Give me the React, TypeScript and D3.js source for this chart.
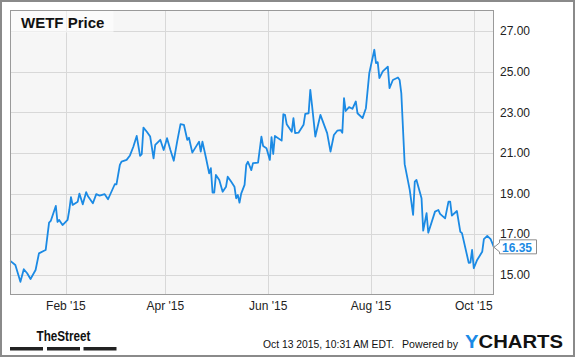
import React from "react";
import * as d3 from "d3";

const dates: string[] = [
  "2014-12-30","2015-01-02","2015-01-05","2015-01-07","2015-01-09","2015-01-11","2015-01-14","2015-01-16",
  "2015-01-19","2015-01-20","2015-01-22","2015-01-23","2015-01-26","2015-01-27","2015-01-28","2015-01-30",
  "2015-02-02","2015-02-03","2015-02-04","2015-02-05","2015-02-08","2015-02-09","2015-02-11","2015-02-13",
  "2015-02-14","2015-02-17","2015-02-19","2015-02-21","2015-02-24","2015-02-26","2015-03-02","2015-03-03",
  "2015-03-05","2015-03-06","2015-03-09","2015-03-11","2015-03-13","2015-03-15","2015-03-17","2015-03-18",
  "2015-03-19","2015-03-21","2015-03-23","2015-03-25","2015-03-26","2015-03-29","2015-03-31","2015-04-02",
  "2015-04-04","2015-04-06","2015-04-08","2015-04-10","2015-04-12","2015-04-14","2015-04-15","2015-04-17",
  "2015-04-21","2015-04-22","2015-04-23","2015-04-25","2015-04-27","2015-04-28","2015-04-29","2015-04-30",
  "2015-05-01","2015-05-03","2015-05-05","2015-05-07","2015-05-08","2015-05-10","2015-05-12","2015-05-13",
  "2015-05-14","2015-05-15","2015-05-16","2015-05-18","2015-05-19","2015-05-20","2015-05-22","2015-05-23",
  "2015-05-26","2015-05-28","2015-05-29","2015-05-31","2015-06-02","2015-06-03","2015-06-04","2015-06-05",
  "2015-06-09","2015-06-10","2015-06-11","2015-06-12","2015-06-15","2015-06-16","2015-06-17","2015-06-19",
  "2015-06-22","2015-06-23","2015-06-25","2015-06-26","2015-06-27","2015-06-29","2015-07-02","2015-07-06",
  "2015-07-08","2015-07-10","2015-07-12","2015-07-14","2015-07-15","2015-07-16","2015-07-17","2015-07-19",
  "2015-07-21","2015-07-23","2015-07-24","2015-07-27","2015-07-29","2015-07-31","2015-08-03","2015-08-04",
  "2015-08-05","2015-08-06","2015-08-08","2015-08-11","2015-08-12","2015-08-14","2015-08-17","2015-08-18",
  "2015-08-19","2015-08-21","2015-08-24","2015-08-26","2015-08-27","2015-08-28","2015-08-31","2015-09-01",
  "2015-09-03","2015-09-04","2015-09-08","2015-09-10","2015-09-11","2015-09-14","2015-09-16","2015-09-17",
  "2015-09-18","2015-09-21","2015-09-23","2015-09-24","2015-09-28","2015-09-29","2015-09-30","2015-10-01",
  "2015-10-03","2015-10-06","2015-10-07","2015-10-09","2015-10-11","2015-10-13"
];

const prices: number[] = [
  15.68,15.48,14.65,15.27,15.07,14.79,15.23,16.05,
  16.18,16.22,17.57,17.65,18.39,17.6,17.7,17.45,
  17.7,18.19,18.82,18.44,18.6,19.0,18.47,19.07,
  18.88,18.52,18.97,18.9,18.97,18.72,19.46,19.45,
  20.41,20.58,20.66,20.88,21.31,21.84,20.86,20.95,
  22.25,22.05,21.81,20.74,21.4,21.65,21.15,21.73,
  21.15,20.62,21.56,22.42,22.39,21.65,21.75,21.02,
  21.56,21.07,21.56,20.8,20.0,20.25,19.05,19.05,
  19.92,19.67,19.09,19.34,19.83,19.59,19.34,18.77,
  18.93,18.55,19.0,19.43,20.41,20.57,20.16,20.5,
  20.53,21.81,21.35,21.24,20.66,21.78,20.95,21.84,
  21.61,22.91,22.88,22.42,22.05,22.72,21.98,22.0,
  22.39,22.93,22.96,24.11,23.37,21.81,22.88,21.98,
  21.07,21.89,22.1,22.13,22.0,23.7,23.07,23.26,
  23.18,23.54,22.96,22.72,23.21,24.94,26.09,25.43,
  25.48,24.69,25.02,25.26,24.2,24.6,24.72,24.6,
  23.95,20.45,19.18,17.95,19.59,19.67,18.77,17.17,
  18.03,17.07,18.11,18.19,18.0,17.78,18.6,18.6,
  17.91,18.14,17.12,17.05,15.59,15.6,16.22,15.32,
  15.73,16.13,16.75,16.91,16.75,16.35
];

const yTicks: number[] = [15, 17, 19, 21, 23, 25, 27];
const xTickDates: string[] = ["2015-02-01", "2015-04-01", "2015-06-01", "2015-08-01", "2015-10-01"];
const xTickLabels: string[] = ["Feb '15", "Apr '15", "Jun '15", "Aug '15", "Oct '15"];
const title = "WETF Price";
const lastLabel = "16.35";
const stampText = "Oct 13 2015, 10:31 AM EDT.";
const poweredText = "Powered by";

export default function App() {
  const W = 575, H = 358;
  const left = 10, right = 494, top = 10, bottom = 295;
  const parse = d3.timeParse("%Y-%m-%d");
  const data = dates.map((d, i) => ({ date: parse(d) as Date, v: prices[i] }));
  const x = d3.scaleTime()
    .domain([parse("2014-12-30") as Date, parse("2015-10-13") as Date])
    .range([left + 0.3, right]);
  const y = d3.scaleLinear().domain([14, 28.05]).range([bottom, top]);
  const line = d3.line<{ date: Date; v: number }>()
    .x(d => x(d.date))
    .y(d => y(d.v))
    .curve(d3.curveLinear);
  const blue = "#1b8ae4";
  const last = data[data.length - 1];
  const ly = y(last.v);
  const font = "Arial, 'Liberation Sans', sans-serif";

  return (
    <svg width={W} height={H} style={{ position: "absolute", left: 0, top: 0, background: "#fff" }}
      fontFamily={font}>
      <rect x={0} y={0} width={W} height={H} fill="#fff" />
      <rect x={left} y={top} width={right - left} height={bottom - top} fill="#f6f6f6" />
      {yTicks.map(t => (
        <line key={"gy" + t} x1={left} x2={right} y1={Math.round(y(t)) + 0.5} y2={Math.round(y(t)) + 0.5}
          stroke="#d8d8d8" strokeWidth={1} />
      ))}
      {xTickDates.map(d => {
        const xx = Math.round(x(parse(d) as Date)) + 0.5;
        return <line key={"gx" + d} x1={xx} x2={xx} y1={top} y2={bottom} stroke="#d8d8d8" strokeWidth={1} />;
      })}
      <rect x={left + 0.5} y={top + 0.5} width={103} height={22} fill="#ffffff" fillOpacity={0.55} />
      <text x={21} y={28} fontSize={15} fontWeight="bold" fill="#111">{title}</text>
      <path d={line(data) || ""} fill="none" stroke={blue} strokeWidth={1.8} strokeLinejoin="round" />
      <rect x={left + 0.5} y={top + 0.5} width={right - left - 1} height={bottom - top - 1} fill="none"
        stroke="#9a9a9a" strokeWidth={1} />
      {yTicks.map(t => (
        <text key={"ty" + t} x={500} y={y(t)} dy="0.35em" fontSize={12} fill="#222">{t.toFixed(2)}</text>
      ))}
      {xTickDates.map((d, i) => (
        <text key={"tx" + d} x={x(parse(d) as Date)} y={310} fontSize={12} fill="#222" textAnchor="middle">
          {xTickLabels[i]}
        </text>
      ))}
      <path d={`M${right},${ly} L${right + 5.5},${ly - 4.5} L${right + 5.5},${ly - 7.5} L536.5,${ly - 7.5} L536.5,${ly + 6.5} L${right + 5.5},${ly + 6.5} L${right + 5.5},${ly + 4.5} Z`}
        fill="#fff" stroke="#8c8c8c" strokeWidth={1} />
      <text x={502} y={ly + 4.5} fontSize={12} fontWeight="bold" fill={blue}>{lastLabel}</text>
      <text x={36.5} y={340.5} fontSize={15} fontWeight="bold" fill="#111" textLength={54}
        lengthAdjust="spacingAndGlyphs">TheStreet</text>
      <rect x={10} y={347} width={33} height={3.5} fill="#222" />
      <rect x={47} y={347} width={33} height={3.5} fill="#222" />
      <rect x={83.5} y={347} width={33} height={3.5} fill="#222" />
      <text x={263} y={348} fontSize={10.5} fill="#111" textLength={131} lengthAdjust="spacingAndGlyphs">
        {stampText}
      </text>
      <text x={402} y={348} fontSize={10.5} fill="#111" textLength={56} lengthAdjust="spacingAndGlyphs">
        {poweredText}
      </text>
      <text x={465} y={348} fontSize={18} fontWeight="bold" textLength={98} lengthAdjust="spacingAndGlyphs">
        <tspan fill="#1a8ae6">Y</tspan><tspan fill="#111">CHARTS</tspan>
      </text>
      <rect x={1} y={1} width={W - 2} height={H - 3} fill="none" stroke="#8a8a8a" strokeWidth={2} />
    </svg>
  );
}
